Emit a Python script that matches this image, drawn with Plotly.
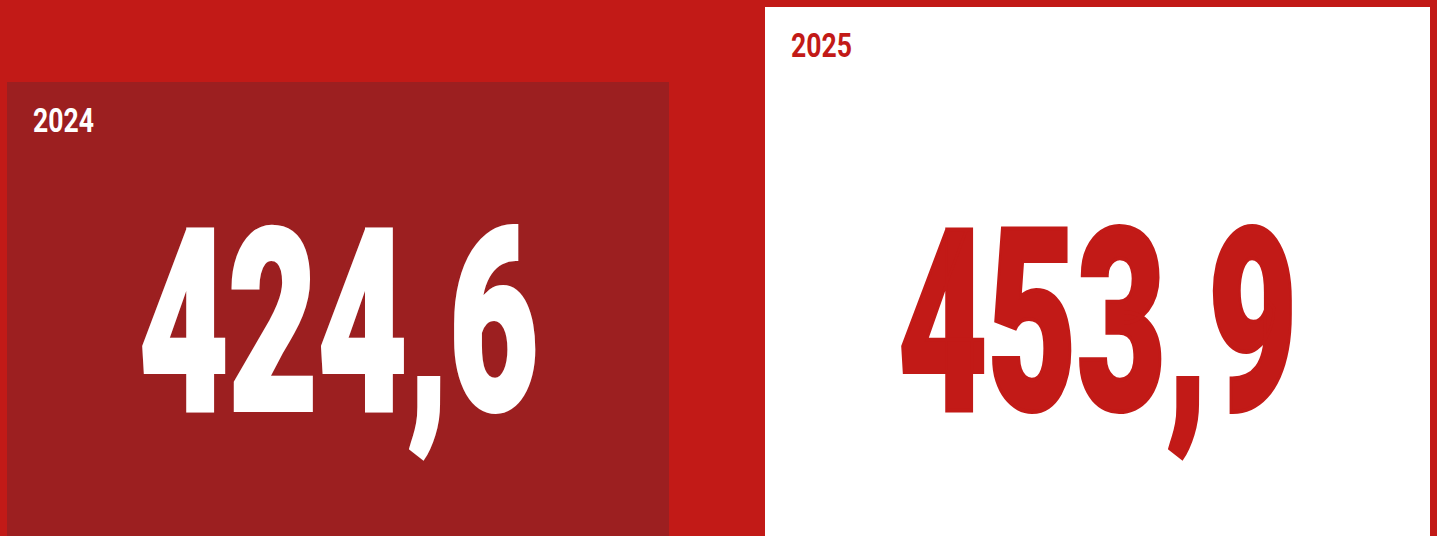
import plotly.graph_objects as go

# Figures shown on the two tiles
years = ["2024", "2025"]
values = [424.6, 453.9]

W, H = 1437, 536
RED = "#C21A17"
DARK = "#9C1F20"
WHITE = "#FFFFFF"
FONT = "Roboto, 'Noto Sans', 'DejaVu Sans', sans-serif"

# Tile boxes in pixel coordinates (x0, y0, x1, y1), y measured from the top
tiles = [(7, 82, 669, 536), (765, 7, 1430, 536)]
tile_fill = [DARK, WHITE]
text_color = [WHITE, RED]


def fmt(v):
    return f"{v:.1f}".replace(".", ",")


fig = go.Figure()
shapes = []
annotations = []
for i, (x0, y0, x1, y1) in enumerate(tiles):
    shapes.append(dict(type="rect", xref="x", yref="y", x0=x0, y0=y0, x1=x1, y1=y1,
                       fillcolor=tile_fill[i], line=dict(width=0), layer="below"))
    # year label in the top-left corner of the tile
    annotations.append(dict(x=x0 + 24, y=y0 + 38, xref="x", yref="y",
                            text=years[i], showarrow=False,
                            xanchor="left", yanchor="middle",
                            font=dict(family=FONT, size=33,
                                      weight="bold", color=text_color[i])))
    # big value centred in the tile
    annotations.append(dict(x=(x0 + x1) / 2, y=323, xref="x", yref="y",
                            text=fmt(values[i]), showarrow=False,
                            xanchor="center", yanchor="middle",
                            font=dict(family=FONT, size=254,
                                      weight=900, color=text_color[i])))

fig.update_layout(
    width=W, height=H,
    margin=dict(l=0, r=0, t=0, b=0),
    paper_bgcolor=RED, plot_bgcolor=RED,
    xaxis=dict(range=[0, W], visible=False, fixedrange=True),
    yaxis=dict(range=[H, 0], visible=False, fixedrange=True),
    shapes=shapes, annotations=annotations,
    showlegend=False,
)

# Compress the text horizontally into a condensed poster style
post = """
var gd = document.getElementById('{plot_id}');
gd.querySelectorAll('text.annotation-text').forEach(function(t){
  var fs = parseFloat(t.style.fontSize);
  var big = fs > 100;
  var stroke = big ? 4 : 0;
  var target = big ? 402 : 61;
  var bb = t.getBBox();
  var sx = target / (bb.width + stroke);
  t.style.transformBox = 'fill-box';
  t.style.transformOrigin = big ? 'center' : 'left';
  t.style.transform = 'scaleX(' + sx + ')';
  if (stroke) {
    t.style.stroke = t.style.fill;
    t.style.strokeWidth = stroke + 'px';
    t.style.strokeLinejoin = 'miter';
  }
});
"""

fig.write_html("out.html", config={"displayModeBar": False, "staticPlot": True},
               post_script=post)
